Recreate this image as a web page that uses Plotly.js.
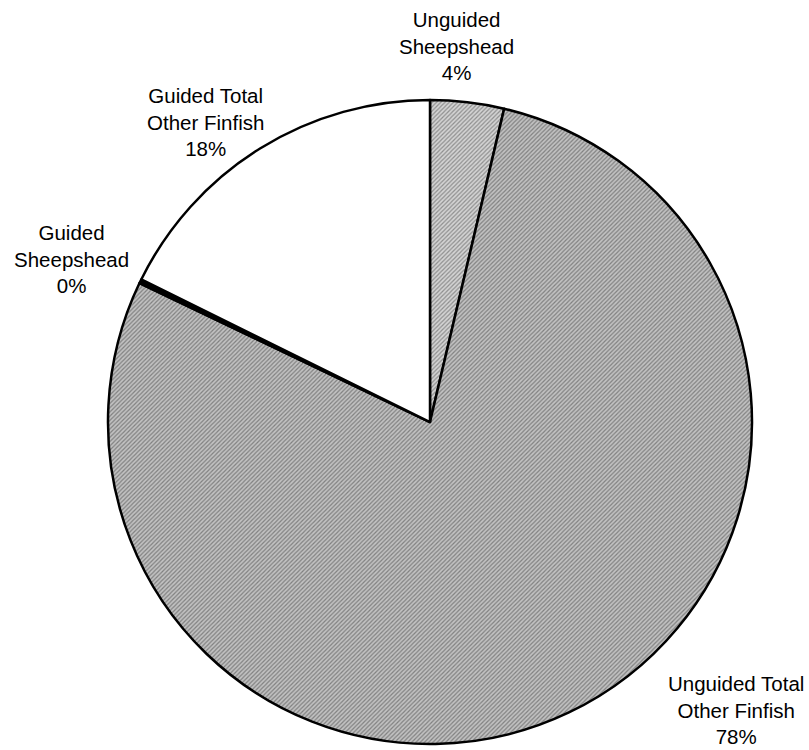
<!DOCTYPE html>
<html>
<head>
<meta charset="utf-8">
<script src="https://cdn.plot.ly/plotly-3.0.1.min.js"></script>
<style>html,body{margin:0;padding:0;background:#fff;}#chart{width:809px;height:750px;}</style>
</head>
<body>
<div id="chart"></div>
<script>
const categories = ["Unguided Sheepshead", "Unguided Total Other Finfish", "Guided Sheepshead", "Guided Total Other Finfish"];
const labelLines = [["Unguided", "Sheepshead"], ["Unguided Total", "Other Finfish"], ["Guided", "Sheepshead"], ["Guided Total", "Other Finfish"]];
const shares = [3.7, 78.4, 0.2, 17.7];
const percentLabels = ["4%", "78%", "0%", "18%"];

const fills = ["#d4d4d4", "#c2c2c2", "#000000", "#ffffff"];
const hatch = ["#8e8e8e", "#808080", "#000000", "#ffffff"];
const labelPos = [[456, 46], [736, 710], [71, 259], [205, 122]];

const trace = {
  type: "pie",
  labels: categories,
  values: shares,
  sort: false,
  direction: "clockwise",
  rotation: 0,
  textinfo: "none",
  hoverinfo: "label+percent",
  marker: {
    colors: fills,
    line: {color: "#000", width: 2.5},
    pattern: {shape: ["/", "/", "", ""], fgcolor: hatch, bgcolor: fills, size: 3, solidity: 0.4}
  },
  domain: {x: [(430 - 322) / 809, (430 + 322) / 809], y: [(328 - 322) / 750, (328 + 322) / 750]},
  showlegend: false
};

const annotations = categories.map((c, i) => ({
  xref: "paper", yref: "paper",
  x: labelPos[i][0] / 809, y: 1 - labelPos[i][1] / 750,
  xanchor: "center", yanchor: "middle",
  text: labelLines[i].concat([percentLabels[i]]).join("<br>"),
  showarrow: false, align: "center",
  font: {family: "Liberation Sans, Arial, sans-serif", size: 20.5, color: "#000"}
}));

Plotly.newPlot("chart", [trace], {
  width: 809, height: 750,
  margin: {l: 0, r: 0, t: 0, b: 0},
  paper_bgcolor: "#fff",
  annotations: annotations,
  font: {family: "Liberation Sans, Arial, sans-serif", size: 16, color: "#000"}
}, {displayModeBar: false});
</script>
</body>
</html>
